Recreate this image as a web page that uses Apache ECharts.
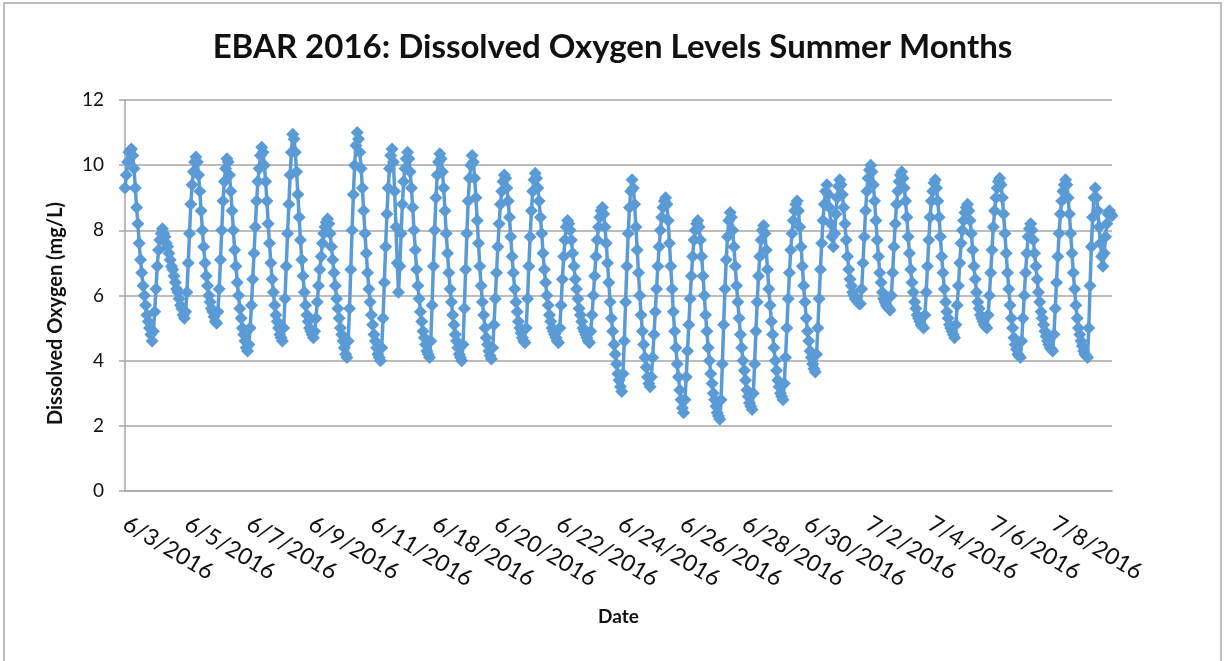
<!DOCTYPE html>
<html>
<head>
<meta charset="utf-8">
<script src="https://cdn.jsdelivr.net/npm/echarts@6/dist/echarts.min.js"></script>
<style>
  html, body { margin: 0; padding: 0; background: #fff; }
  #container { width: 1225px; height: 661px; }
</style>
</head>
<body>
<div id="container"></div>
<script>
// one list of readings per day (roughly hourly)
const days = ['6/3/2016', '6/4/2016', '6/5/2016', '6/6/2016', '6/7/2016', '6/8/2016', '6/9/2016', '6/10/2016', '6/11/2016',
    '6/17/2016', '6/18/2016', '6/19/2016', '6/20/2016', '6/21/2016', '6/22/2016', '6/23/2016', '6/24/2016', '6/25/2016',
    '6/26/2016', '6/27/2016', '6/28/2016', '6/29/2016', '6/30/2016', '7/1/2016', '7/2/2016', '7/3/2016', '7/4/2016',
    '7/5/2016', '7/6/2016', '7/7/2016', '7/8/2016', '7/9/2016'];

const jun03 = [9.3, 9.7, 10.1, 10.4, 10.45, 10.5, 10.3, 9.9, 9.3, 8.7, 8.2, 7.6, 7.1, 6.7, 6.3, 6.0, 5.7, 5.4, 5.2, 5.0, 4.8, 4.6, 4.9, 5.5];
const jun04 = [6.2, 6.9, 7.4, 7.7, 7.9, 8.05, 7.9, 7.8, 7.6, 7.5, 7.3, 7.1, 6.9, 6.8, 6.6, 6.4, 6.2, 6.1, 5.9, 5.7, 5.6, 5.4, 5.3, 5.5];
const jun05 = [6.1, 7.0, 7.9, 8.8, 9.4, 9.8, 10.1, 10.25, 10.1, 9.7, 9.2, 8.6, 8.0, 7.5, 7.0, 6.6, 6.3, 6.0, 5.8, 5.6, 5.5, 5.35, 5.2, 5.15];
const jun06 = [5.5, 6.2, 7.1, 8.0, 8.9, 9.5, 9.9, 10.2, 10.1, 9.7, 9.2, 8.6, 8.0, 7.4, 6.9, 6.4, 6.0, 5.6, 5.3, 5.0, 4.8, 4.6, 4.4, 4.3];
const jun07 = [4.5, 5.0, 5.7, 6.5, 7.3, 8.1, 8.9, 9.5, 9.9, 10.3, 10.55, 10.4, 10.0, 9.5, 8.9, 8.2, 7.6, 7.0, 6.5, 6.1, 5.7, 5.4, 5.2, 5.0];
const jun08 = [4.8, 4.7, 4.6, 5.0, 5.9, 6.9, 7.9, 8.8, 9.7, 10.4, 10.95, 10.8, 10.4, 9.8, 9.1, 8.4, 7.7, 7.1, 6.6, 6.1, 5.7, 5.4, 5.2, 5.0];
const jun09 = [4.9, 4.8, 4.7, 4.9, 5.3, 5.8, 6.3, 6.8, 7.2, 7.6, 7.9, 8.1, 8.25, 8.35, 8.2, 7.9, 7.5, 7.1, 6.7, 6.3, 5.9, 5.6, 5.3, 5.0];
const jun10 = [4.8, 4.6, 4.4, 4.2, 4.1, 4.6, 5.6, 6.8, 8.0, 9.1, 10.0, 10.6, 11.0, 10.8, 10.4, 9.9, 9.3, 8.6, 7.9, 7.3, 6.7, 6.2, 5.8, 5.4];
const jun11 = [5.1, 4.8, 4.6, 4.4, 4.2, 4.1, 4.0, 4.4, 5.3, 6.4, 7.5, 8.5, 9.3, 9.9, 10.3, 10.5, 10.1, 9.2, 8.1, 7.0, 6.1, 6.9, 7.9, 8.8];
const jun17 = [9.5, 9.9, 10.2, 10.4, 10.2, 9.8, 9.3, 8.7, 8.0, 7.4, 6.8, 6.3, 5.9, 5.5, 5.2, 4.9, 4.7, 4.5, 4.3, 4.2, 4.1, 4.6, 5.7, 6.9];
const jun18 = [8.0, 9.0, 9.7, 10.1, 10.35, 10.2, 9.8, 9.3, 8.6, 7.9, 7.3, 6.7, 6.2, 5.8, 5.4, 5.1, 4.8, 4.6, 4.4, 4.2, 4.1, 4.0, 4.5, 5.6];
const jun19 = [6.8, 7.9, 8.9, 9.6, 10.0, 10.3, 10.1, 9.6, 9.0, 8.3, 7.6, 6.9, 6.3, 5.8, 5.4, 5.0, 4.7, 4.5, 4.3, 4.15, 4.05, 4.4, 5.1, 5.9];
const jun20 = [6.7, 7.5, 8.2, 8.8, 9.2, 9.5, 9.7, 9.6, 9.3, 8.9, 8.4, 7.8, 7.2, 6.7, 6.2, 5.8, 5.5, 5.2, 5.0, 4.85, 4.7, 4.6, 4.55, 5.0];
const jun21 = [5.9, 6.9, 7.8, 8.6, 9.2, 9.55, 9.75, 9.6, 9.3, 8.9, 8.4, 7.9, 7.3, 6.8, 6.4, 6.0, 5.7, 5.4, 5.2, 5.0, 4.9, 4.8, 4.7, 4.6];
const jun22 = [4.55, 5.0, 5.7, 6.5, 7.2, 7.7, 8.1, 8.3, 8.2, 8.0, 7.7, 7.3, 6.9, 6.5, 6.2, 5.9, 5.6, 5.4, 5.2, 5.0, 4.9, 4.8, 4.7, 4.6];
const jun23 = [4.55, 4.9, 5.4, 6.0, 6.6, 7.2, 7.7, 8.1, 8.4, 8.6, 8.7, 8.5, 8.1, 7.6, 7.0, 6.4, 5.8, 5.3, 4.9, 4.5, 4.2, 3.9, 3.6, 3.4];
const jun24 = [3.2, 3.05, 3.6, 4.6, 5.8, 6.9, 7.9, 8.7, 9.2, 9.55, 9.3, 8.8, 8.1, 7.4, 6.7, 6.0, 5.4, 4.9, 4.5, 4.1, 3.8, 3.5, 3.3, 3.2];
const jun25 = [3.5, 4.1, 4.8, 5.5, 6.2, 6.9, 7.5, 8.0, 8.4, 8.7, 8.9, 9.0, 8.8, 8.3, 7.6, 6.9, 6.2, 5.5, 4.9, 4.4, 3.9, 3.5, 3.1, 2.8];
const jun26 = [2.55, 2.4, 2.8, 3.5, 4.3, 5.1, 5.9, 6.6, 7.2, 7.7, 8.0, 8.2, 8.3, 8.1, 7.7, 7.2, 6.6, 6.0, 5.4, 4.9, 4.4, 4.0, 3.6, 3.3];
const jun27 = [3.0, 2.8, 2.6, 2.4, 2.3, 2.2, 2.8, 3.9, 5.1, 6.2, 7.1, 7.8, 8.3, 8.55, 8.4, 8.0, 7.5, 6.9, 6.3, 5.8, 5.3, 4.8, 4.4, 4.0];
const jun28 = [3.7, 3.4, 3.1, 2.9, 2.7, 2.6, 2.5, 3.0, 3.9, 4.9, 5.8, 6.6, 7.2, 7.7, 8.0, 8.15, 7.9, 7.4, 6.8, 6.2, 5.7, 5.2, 4.8, 4.4];
const jun29 = [4.0, 3.7, 3.4, 3.2, 3.0, 2.9, 2.8, 3.3, 4.1, 5.0, 5.9, 6.7, 7.4, 7.9, 8.3, 8.6, 8.8, 8.9, 8.6, 8.1, 7.5, 6.9, 6.3, 5.8];
const jun30 = [5.3, 4.9, 4.6, 4.3, 4.1, 3.9, 3.75, 3.65, 4.2, 5.0, 5.9, 6.8, 7.6, 8.3, 8.8, 9.2, 9.4, 9.1, 8.7, 8.2, 7.8, 7.5, 7.9, 8.5];
const jul01 = [9.0, 9.35, 9.55, 9.4, 9.1, 8.7, 8.2, 7.7, 7.2, 6.8, 6.5, 6.3, 6.1, 6.0, 5.9, 5.85, 5.8, 5.75, 5.75, 6.2, 7.0, 7.8, 8.6, 9.2];
const jul02 = [9.6, 9.85, 10.0, 9.8, 9.4, 8.9, 8.3, 7.7, 7.2, 6.7, 6.4, 6.1, 5.9, 5.8, 5.7, 5.65, 5.6, 5.55, 6.0, 6.7, 7.5, 8.2, 8.8, 9.2];
const jul03 = [9.5, 9.7, 9.8, 9.6, 9.3, 8.9, 8.4, 7.8, 7.3, 6.8, 6.4, 6.1, 5.8, 5.6, 5.4, 5.3, 5.2, 5.1, 5.05, 5.0, 5.4, 6.1, 6.9, 7.7];
const jul04 = [8.4, 8.9, 9.2, 9.45, 9.55, 9.3, 8.9, 8.4, 7.8, 7.2, 6.7, 6.2, 5.8, 5.5, 5.3, 5.1, 5.0, 4.9, 4.8, 4.7, 5.1, 5.7, 6.3, 7.0];
const jul05 = [7.6, 8.0, 8.3, 8.55, 8.7, 8.8, 8.6, 8.3, 7.9, 7.4, 6.9, 6.5, 6.1, 5.8, 5.6, 5.4, 5.3, 5.2, 5.1, 5.05, 5.0, 5.4, 6.0, 6.7];
const jul06 = [7.4, 8.1, 8.6, 9.0, 9.3, 9.5, 9.6, 9.4, 9.0, 8.5, 7.9, 7.3, 6.7, 6.2, 5.7, 5.3, 5.0, 4.7, 4.5, 4.35, 4.2, 4.15, 4.1, 4.6];
const jul07 = [5.3, 6.0, 6.7, 7.3, 7.8, 8.05, 8.2, 8.0, 7.7, 7.3, 6.9, 6.5, 6.1, 5.8, 5.5, 5.3, 5.1, 4.9, 4.75, 4.6, 4.5, 4.4, 4.35, 4.3];
const jul08 = [4.8, 5.6, 6.4, 7.2, 7.9, 8.5, 8.9, 9.2, 9.4, 9.55, 9.4, 9.0, 8.5, 7.9, 7.3, 6.7, 6.2, 5.7, 5.3, 5.0, 4.8, 4.6, 4.45, 4.3];
const jul09 = [4.2, 4.15, 4.1, 5.0, 6.3, 7.5, 8.4, 9.0, 9.3, 9.0, 8.6, 8.1, 7.6, 7.2, 6.9, 7.3, 7.8, 8.2, 8.5, 8.6, 8.5, 8.45];

const dayReadings = [jun03, jun04, jun05, jun06, jun07, jun08, jun09, jun10, jun11,
    jun17, jun18, jun19, jun20, jun21, jun22, jun23, jun24, jun25, jun26, jun27, jun28, jun29, jun30,
    jul01, jul02, jul03, jul04, jul05, jul06, jul07, jul08, jul09];

const yTicks = [0, 2, 4, 6, 8, 10, 12];

// flatten: one category per reading, named "date #n"
let categories = [];
let values = [];
dayReadings.forEach((list, d) => {
    list.forEach((v, i) => {
        categories.push(days[d] + ' #' + i);
        values.push(v);
    });
});

let dom = document.getElementById('container');
let myChart = echarts.init(dom, null, { renderer: 'canvas' });

const FONT = 'Lato';

const option = {
    animation: false,
    backgroundColor: '#ffffff',
    title: {
        text: 'EBAR 2016: Dissolved Oxygen Levels Summer Months',
        left: 'center',
        top: 26,
        textStyle: { fontFamily: FONT, fontSize: 33, fontWeight: 'bold', color: '#111' }
    },
    graphic: [{
        type: 'rect',
        shape: { x: 4, y: 3, width: 1217, height: 720 },
        style: { fill: 'none', stroke: '#a8a8a8', lineWidth: 1.5 },
        silent: true
    }],
    grid: { left: 125, right: 113, top: 100, bottom: 170, containLabel: false },
    xAxis: {
        type: 'category',
        data: categories,
        boundaryGap: false,
        name: 'Date',
        nameLocation: 'middle',
        nameGap: 116,
        nameTextStyle: { fontFamily: FONT, fontSize: 19, fontWeight: 'bold', color: '#111' },
        axisLine: { show: true, lineStyle: { color: '#a6a6a6', width: 1.5 } },
        axisTick: { show: false },
        splitLine: { show: false },
        axisLabel: {
            interval: (idx) => idx % 48 === 0,
            formatter: (v) => v.split(' ')[0],
            rotate: -31,
            margin: 31,
            fontFamily: FONT,
            fontSize: 23,
            color: '#111',
            hideOverlap: false
        }
    },
    yAxis: {
        type: 'value',
        min: yTicks[0],
        max: yTicks[yTicks.length - 1],
        interval: 2,
        name: 'Dissolved Oxygen (mg/L)',
        nameLocation: 'middle',
        nameGap: 59,
        nameTextStyle: { fontFamily: FONT, fontSize: 20, fontWeight: 'bold', color: '#111', padding: [0, 36, 0, 0] },
        axisLine: { show: true, lineStyle: { color: '#a6a6a6', width: 1.5 } },
        axisTick: { show: true, length: 6, lineStyle: { color: '#a6a6a6', width: 1.5 } },
        splitLine: { show: true, lineStyle: { color: '#a6a6a6', width: 1.5 } },
        axisLabel: { fontFamily: FONT, fontSize: 19, color: '#111', margin: 21 }
    },
    series: [{
        name: 'Dissolved Oxygen',
        type: 'line',
        data: values,
        symbol: 'diamond',
        symbolSize: 13,
        showAllSymbol: true,
        sampling: null,
        lineStyle: { color: '#5b9bd5', width: 3.5 },
        itemStyle: { color: '#5b9bd5' }
    }]
};

myChart.setOption(option);
</script>
</body>
</html>
